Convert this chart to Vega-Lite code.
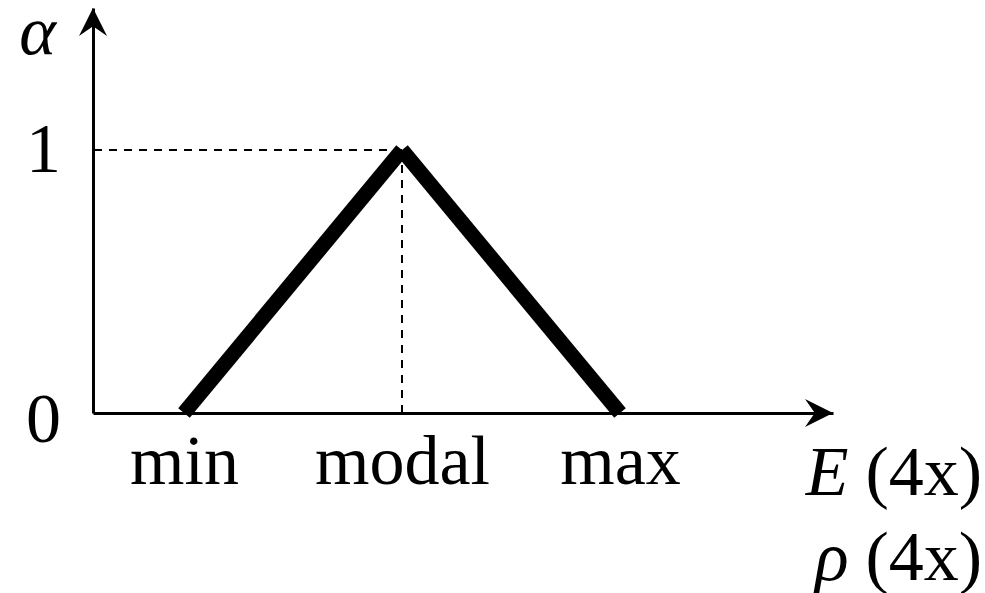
{
  "$schema": "https://vega.github.io/schema/vega-lite/v6.json",
  "width": 740,
  "height": 405,
  "autosize": {"type": "none"},
  "padding": {"left": 93, "top": 8, "right": 152, "bottom": 180},
  "background": "white",
  "config": {
    "view": {"stroke": null},
    "axis": {"grid": false, "labelFont": "Liberation Serif", "titleFont": "Liberation Serif", "labelColor": "black", "titleColor": "black", "titleFontWeight": "normal"}
  },
  "datasets": {
    "membership": [
      {"pos": 1, "alpha": 0, "side": "rise"},
      {"pos": 2, "alpha": 1, "side": "rise"},
      {"pos": 2, "alpha": 1, "side": "fall"},
      {"pos": 3, "alpha": 0, "side": "fall"}
    ],
    "peak": [{"pos": 2, "alpha": 1}],
    "axisEnds": [{"xEnd": 3.977, "yEnd": 1.54, "xStart": 0.5826, "yStart": 0}]
  },
  "resolve": {"axis": {"x": "independent"}},
  "layer": [
    {
      "data": {"name": "peak"},
      "mark": {"type": "rule", "color": "black", "strokeWidth": 2, "strokeDash": [8, 7]},
      "encoding": {
        "x": {"field": "pos", "type": "quantitative", "axis": null},
        "x2": {"datum": 0.5826},
        "y": {"field": "alpha", "type": "quantitative"}
      }
    },
    {
      "data": {"name": "peak"},
      "mark": {"type": "rule", "color": "black", "strokeWidth": 2, "strokeDash": [8, 7]},
      "encoding": {
        "x": {"field": "pos", "type": "quantitative", "axis": null},
        "y": {"field": "alpha", "type": "quantitative"},
        "y2": {"datum": 0}
      }
    },
    {
      "data": {"name": "membership"},
      "mark": {"type": "line", "color": "black", "strokeWidth": 15, "strokeCap": "butt"},
      "encoding": {
        "x": {
          "field": "pos", "type": "quantitative",
          "scale": {"domain": [0.5826, 3.977], "nice": false, "zero": false},
          "axis": {
            "orient": "bottom",
            "values": [1, 2, 3],
            "labelExpr": "datum.value == 1 ? 'min' : datum.value == 2 ? 'modal' : 'max'",
            "labelFontSize": 70,
            "labelBaseline": "alphabetic",
            "labelPadding": 70,
            "labelFlush": false,
            "labelOverlap": false,
            "labelBound": false,
            "ticks": false,
            "tickSize": 0,
            "domainColor": "black",
            "domainWidth": 3,
            "title": ["(4x)", "(4x)"],
            "titleFontSize": 70,
            "titleAlign": "left",
            "titleAnchor": "start",
            "titleBaseline": "alphabetic",
            "titleLineHeight": 85,
            "titleX": 772,
            "titleY": 81
          }
        },
        "y": {
          "field": "alpha", "type": "quantitative",
          "scale": {"domain": [0, 1.54], "nice": false, "zero": false},
          "axis": {
            "orient": "left",
            "values": [0, 1],
            "format": "d",
            "labelFontSize": 70,
            "labelAlign": "center",
            "labelBaseline": "alphabetic",
            "labelPadding": 50,
            "labelOffset": {"condition": {"test": "datum.value == 0", "value": 28}, "value": 21},
            "labelFlush": false,
            "labelOverlap": false,
            "labelBound": false,
            "ticks": false,
            "tickSize": 0,
            "domainColor": "black",
            "domainWidth": 3,
            "title": "α",
            "titleFontSize": 70,
            "titleFontStyle": "italic",
            "titleAngle": 0,
            "titleAlign": "center",
            "titleBaseline": "alphabetic",
            "titleX": -56,
            "titleY": 45
          }
        },
        "detail": {"field": "side"}
      }
    },
    {
      "data": {"name": "axisEnds"},
      "mark": {"type": "point", "filled": true, "color": "black", "opacity": 1, "size": 784, "strokeWidth": 0, "shape": "M0,0 L-2,-1 L-1.3,0 L-2,1 Z"},
      "encoding": {
        "x": {
          "field": "xEnd", "type": "quantitative",
          "axis": {
            "orient": "bottom",
            "domain": false,
            "labels": false,
            "ticks": false,
            "title": ["E", "ρ"],
            "titleFontSize": 70,
            "titleFontStyle": "italic",
            "titleAlign": "right",
            "titleAnchor": "start",
            "titleBaseline": "alphabetic",
            "titleLineHeight": 85,
            "titleX": 755,
            "titleY": 81
          }
        },
        "y": {"field": "yStart", "type": "quantitative"}
      }
    },
    {
      "data": {"name": "axisEnds"},
      "mark": {"type": "point", "filled": true, "color": "black", "opacity": 1, "size": 784, "strokeWidth": 0, "shape": "M0,0 L-1,2 L0,1.3 L1,2 Z"},
      "encoding": {
        "x": {"field": "xStart", "type": "quantitative", "axis": null},
        "y": {"field": "yEnd", "type": "quantitative"}
      }
    }
  ]
}
